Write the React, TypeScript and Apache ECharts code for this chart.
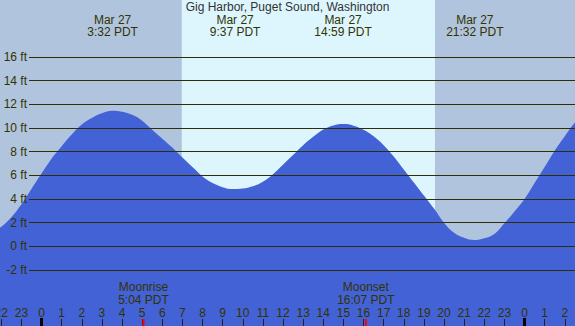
import React, { useEffect, useRef } from "react";
import * as echarts from "echarts";

// Hours relative to midnight of Mar 27 (negative = previous day, >24 = next day)
const hours = [
  -3, -2.5, -2, -1.5, -1, -0.5, 0, 0.5, 1, 1.5, 2, 2.5, 3, 3.5, 4, 4.5, 5, 5.5, 6, 6.5,
  7, 7.5, 8, 8.5, 9, 9.5, 10, 10.5, 11, 11.5, 12, 12.5, 13, 13.5, 14, 14.5, 15, 15.5, 16, 16.5,
  17, 17.5, 18, 18.5, 19, 19.5, 20, 20.5, 21, 21.5, 22, 22.5, 23, 23.5, 24, 24.5, 25, 25.5, 26, 26.5, 27,
];
// Tide height in feet
const heights = [
  0.85, 1.15, 1.65, 2.45, 3.55, 4.85, 6.15, 7.4, 8.45, 9.45, 10.3, 10.85, 11.25, 11.45, 11.37, 11.12, 10.62, 9.85, 9.1, 8.35,
  7.5, 6.7, 5.9, 5.35, 5.0, 4.84, 4.88, 5.07, 5.45, 6.1, 6.9, 7.72, 8.55, 9.25, 9.87, 10.21, 10.33, 10.2, 9.85, 9.3,
  8.55, 7.6, 6.5, 5.4, 4.3, 3.2, 2.0, 1.15, 0.72, 0.53, 0.68, 1.05, 1.95, 2.95, 4.0, 5.35, 6.7, 8.08, 9.3, 10.44, 11.2,
];

// High / low tide events
const eventHours = [3.533, 9.617, 14.983, 21.533];
const eventDates = ["Mar 27", "Mar 27", "Mar 27", "Mar 27"];
const eventTimes = ["3:32 PDT", "9:37 PDT", "14:59 PDT", "21:32 PDT"];

// Moon events
const moonHours = [5.067, 16.117];
const moonNames = ["Moonrise", "Moonset"];
const moonTimes = ["5:04 PDT", "16:07 PDT"];

// Daylight
const sunriseHour = 6.97;
const sunsetHour = 19.55;

// Midnights
const midnightHours = [0, 24];

const yTicks = [-2, 16];

const title = "Gig Harbor, Puget Sound, Washington";

const FONT = "'Liberation Sans', Arial, sans-serif";
const TEXT = "#333300";
const WATER = "#4262d6";
const NIGHT = "#b0c4de";
const DAY = "#ddf6fe";

export default function App() {
  const ref = useRef<HTMLDivElement>(null);
  useEffect(() => {
    if (!ref.current) return;
    const chart = echarts.init(ref.current, null, { renderer: "svg" });
    const H = 326;
    chart.setOption({
      animation: false,
      backgroundColor: NIGHT,
      title: {
        text: title,
        left: "center",
        top: 1,
        padding: 0,
        textStyle: { fontSize: 12, fontWeight: "normal", color: "#333", fontFamily: FONT },
      },
      grid: [
        { left: -18.875, right: -9.9, top: 0, bottom: 0, outerBoundsMode: "none", containLabel: false },
        { left: 29, right: 0, top: 57, bottom: 56, outerBoundsMode: "none", containLabel: false },
      ],
      xAxis: [
        {
          gridIndex: 0,
          type: "value",
          min: -3,
          max: 27,
          interval: 1,
          z: 5,
          axisLine: { show: false, onZero: false },
          splitLine: { show: false },
          axisTick: { show: true, inside: true, length: 7, lineStyle: { color: "#222", width: 1 } },
          axisLabel: {
            inside: true,
            margin: 7,
            color: TEXT,
            fontSize: 12,
            fontFamily: FONT,
            formatter: (v: number) =>
              v <= -3 || v >= 27 ? "" : String(((Math.round(v) % 24) + 24) % 24),
          },
        },
        { gridIndex: 1, type: "value", min: 0, max: 1, show: false },
      ],
      yAxis: [
        { gridIndex: 0, type: "value", min: -6.733, max: 20.817, show: false },
        {
          gridIndex: 1,
          type: "value",
          min: yTicks[0],
          max: yTicks[1],
          interval: 2,
          z: 4,
          axisLine: { show: false },
          axisTick: { show: false },
          splitLine: { show: true, lineStyle: { color: "#2e2e08", width: 1 } },
          axisLabel: {
            margin: 2,
            color: TEXT,
            fontSize: 12,
            fontFamily: FONT,
            formatter: (v: number) => v + " ft",
          },
        },
      ],
      series: [
        {
          type: "custom",
          xAxisIndex: 0,
          yAxisIndex: 0,
          z: 1,
          silent: true,
          data: [[sunriseHour, sunsetHour]],
          encode: { x: [0, 1] },
          renderItem: (_p: any, api: any) => {
            const x1 = api.coord([api.value(0), 0])[0];
            const x2 = api.coord([api.value(1), 0])[0];
            return { type: "rect", shape: { x: x1, y: 0, width: x2 - x1, height: H }, style: { fill: DAY } };
          },
        },
        {
          type: "line",
          xAxisIndex: 0,
          yAxisIndex: 0,
          z: 2,
          silent: true,
          symbol: "none",
          smooth: 0.4,
          lineStyle: { width: 0, opacity: 0 },
          areaStyle: { color: WATER, opacity: 1, origin: "start" },
          data: hours.map((h, i) => [h, heights[i]]),
        },
        {
          type: "custom",
          xAxisIndex: 0,
          yAxisIndex: 0,
          z: 6,
          silent: true,
          data: [
            ...midnightHours.map((h) => [h, 0]),
            ...moonHours.map((h) => [h, 1]),
          ],
          encode: { x: 0 },
          renderItem: (_p: any, api: any) => {
            const x = api.coord([api.value(0), 0])[0];
            const kind = api.value(1);
            if (kind === 0) {
              return { type: "rect", shape: { x: x - 1.5, y: 318, width: 3, height: 8 }, style: { fill: "#000" } };
            }
            return { type: "rect", shape: { x: x - 1, y: 319, width: 2, height: 7 }, style: { fill: "#ff0000" } };
          },
        },
        {
          type: "custom",
          xAxisIndex: 0,
          yAxisIndex: 0,
          z: 7,
          silent: true,
          data: eventHours.map((h, i) => [h, i]),
          encode: { x: 0 },
          renderItem: (_p: any, api: any) => {
            const x = api.coord([api.value(0), 0])[0];
            const i = api.value(1);
            return {
              type: "group",
              children: [
                {
                  type: "text",
                  x,
                  y: 19.5,
                  style: { text: eventDates[i], fill: TEXT, fontSize: 12, fontFamily: FONT, align: "center", verticalAlign: "middle" },
                },
                {
                  type: "text",
                  x,
                  y: 32,
                  style: { text: eventTimes[i], fill: TEXT, fontSize: 12, fontFamily: FONT, align: "center", verticalAlign: "middle" },
                },
              ],
            };
          },
        },
        {
          type: "custom",
          xAxisIndex: 0,
          yAxisIndex: 0,
          z: 7,
          silent: true,
          data: moonHours.map((h, i) => [h, i]),
          encode: { x: 0 },
          renderItem: (_p: any, api: any) => {
            const x = api.coord([api.value(0), 0])[0];
            const i = api.value(1);
            return {
              type: "group",
              children: [
                {
                  type: "text",
                  x,
                  y: 287,
                  style: { text: moonNames[i], fill: TEXT, fontSize: 12, fontFamily: FONT, align: "center", verticalAlign: "middle" },
                },
                {
                  type: "text",
                  x,
                  y: 299.5,
                  style: { text: moonTimes[i], fill: TEXT, fontSize: 12, fontFamily: FONT, align: "center", verticalAlign: "middle" },
                },
              ],
            };
          },
        },
      ],
    });
    return () => chart.dispose();
  }, []);
  return <div ref={ref} style={{ width: 575, height: 326, position: "absolute", left: 0, top: 0 }} />;
}
